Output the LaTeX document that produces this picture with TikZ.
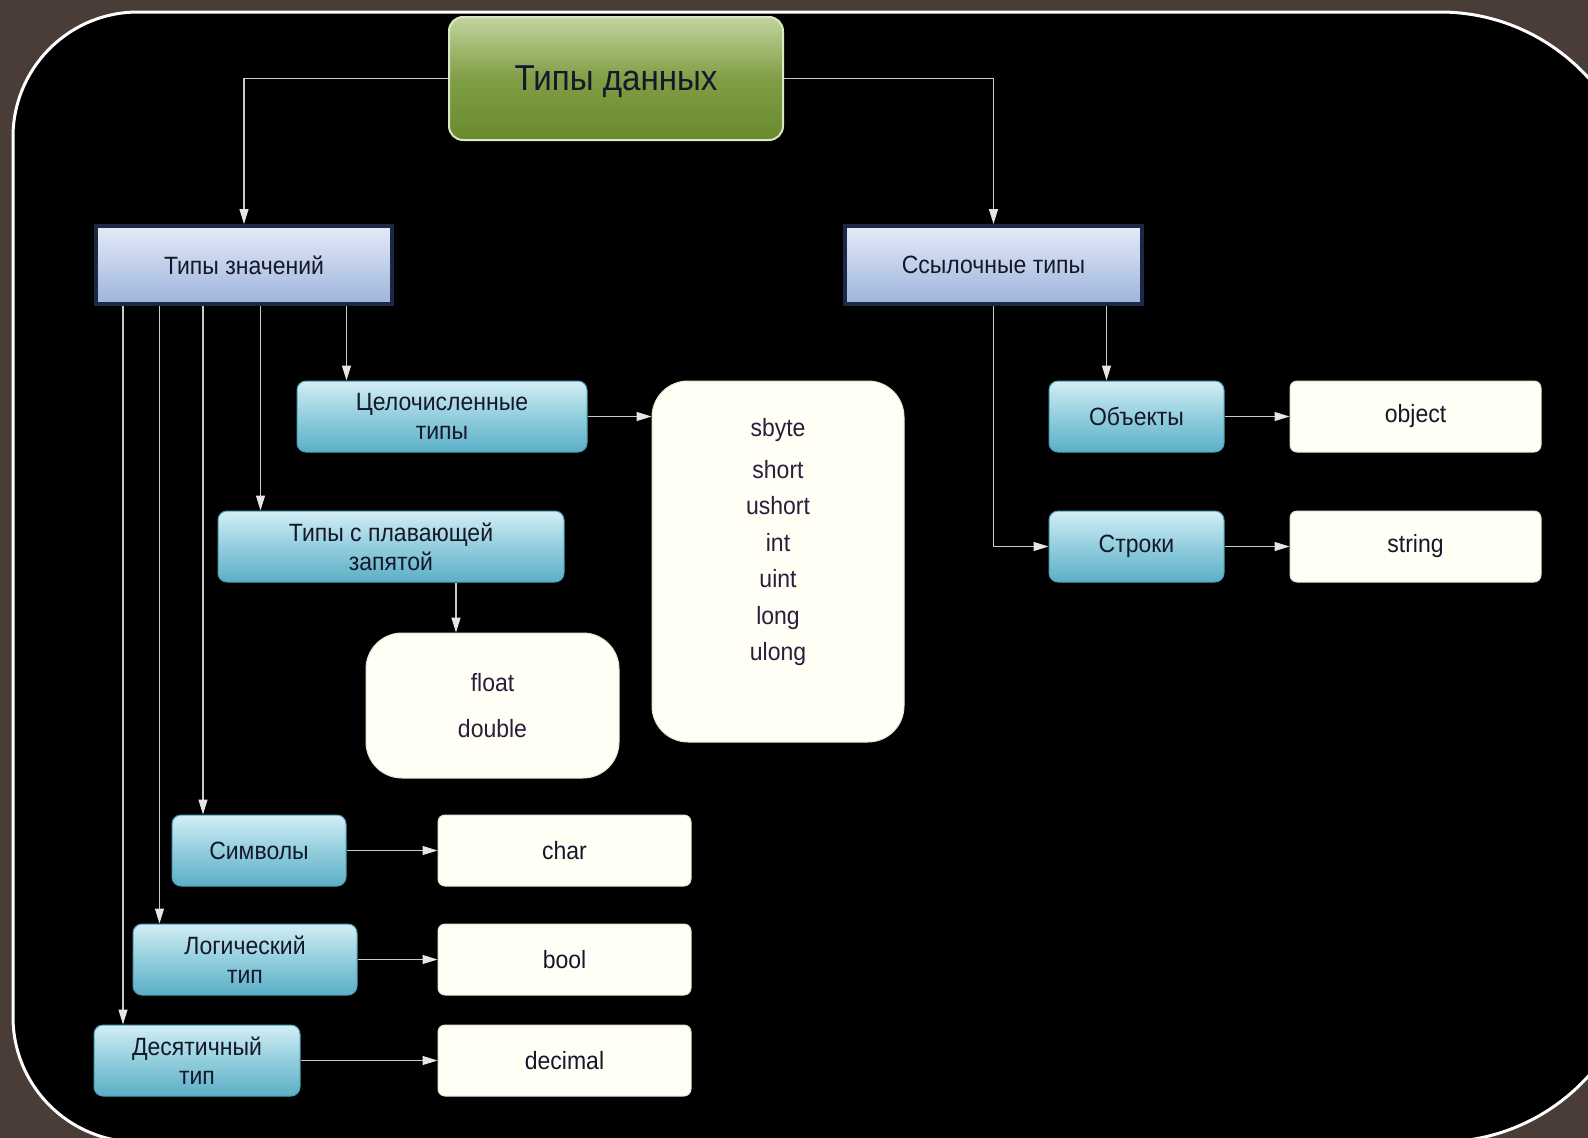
\documentclass[tikz,border=0pt]{standalone}
\usepackage{fontspec}
\setmainfont{Liberation Sans}[FakeStretch=0.92]
\usepackage{tikz}
\usetikzlibrary{arrows.meta}
\pgfdeclarelayer{bglayer}
\pgfdeclarelayer{edgelayer}
\pgfdeclarelayer{nodelayer}
\pgfsetlayers{bglayer,edgelayer,nodelayer,main}
\definecolor{stone}{HTML}{4A3C37}
\definecolor{oliveTop}{HTML}{C2D49E}
\definecolor{oliveMid}{HTML}{7F9E45}
\definecolor{oliveBot}{HTML}{6A8A2E}
\definecolor{oliveRim}{HTML}{DCE6C4}
\definecolor{steelTop}{HTML}{E4EBF7}
\definecolor{steelBot}{HTML}{9DB4DC}
\definecolor{steelRim}{HTML}{1C2946}
\definecolor{aquaTop}{HTML}{D3EEF5}
\definecolor{aquaMid}{HTML}{92CEDD}
\definecolor{aquaBot}{HTML}{5BAFC7}
\definecolor{aquaRim}{HTML}{4E9DB4}
\definecolor{creamFill}{HTML}{FFFFF6}
\definecolor{creamRim}{HTML}{E6E3D2}
\definecolor{ink}{HTML}{15182A}
\definecolor{plum}{HTML}{2A1E3C}
\definecolor{wire}{HTML}{CACACA}
\definecolor{tip}{HTML}{E6E6E6}
\tikzstyle{frame}=[draw=white,fill=black,line width=3]
\tikzstyle{olive}=[rectangle,rounded corners=14,top color=oliveTop,bottom color=oliveBot,middle color=oliveMid,draw=oliveRim,line width=2,text=ink,text depth=0,font=\fontsize{36}{42}\selectfont]
\tikzstyle{steel}=[rectangle,top color=steelTop,bottom color=steelBot,draw=steelRim,line width=4,text=ink,font=\fontsize{25}{29}\selectfont]
\tikzstyle{aqua}=[rectangle,rounded corners=9,top color=aquaTop,bottom color=aquaBot,middle color=aquaMid,draw=aquaRim,line width=1,text=ink,align=center,minimum height=71,font=\fontsize{25}{29}\selectfont]
\tikzstyle{cream}=[rectangle,rounded corners=7,fill=creamFill,draw=creamRim,line width=1,text=ink,minimum width=253,minimum height=71,font=\fontsize{25}{29}\selectfont]
\tikzstyle{creamround}=[rectangle,rounded corners=36,fill=creamFill,draw=creamRim,line width=1,text=plum,align=center]
\tikzstyle{list}=[inner sep=0,align=center,text=plum,font=\fontsize{25}{36.5}\selectfont]
\tikzstyle{link}=[draw=wire,line width=1.2,-{Triangle[length=15pt,width=9pt,color=tip]}]

\begin{document}
\begin{tikzpicture}[x=1pt,y=-1pt]
					\useasboundingbox (0,0) rectangle (1588,1138);
					\begin{pgfonlayer}{bglayer}
						\clip (0,0) rectangle (1588,1138);
						\fill [stone] (0,0) rectangle (1588,1138);
						\draw [style=frame] (13,1012) -- (13,137) arc[start angle=180,end angle=270,radius=125] -- (1440,12) arc[start angle=270,end angle=360,radius=200] -- (1640,942) arc[start angle=0,end angle=90,radius=200] -- (138,1142) arc[start angle=90,end angle=180,radius=125] -- cycle;
					\end{pgfonlayer}
					\begin{pgfonlayer}{nodelayer}
						\node [style=olive, minimum width=334, minimum height=123] (0) at (616.000,78.500) {Типы данных};
						\node [style=steel, minimum width=296, minimum height=78] (1) at (244.000,265.000) {Типы значений};
						\node [style=steel, minimum width=297, minimum height=78] (2) at (993.500,265.000) {Ссылочные типы};
						\node [style=aqua, minimum width=290] (3) at (442.000,416.500) {Целочисленные\\типы};
						\node [style=aqua, minimum width=346] (4) at (391.000,546.500) {Типы с плавающей\\запятой};
						\node [style=aqua, minimum width=174] (5) at (259.000,850.500) {Символы};
						\node [style=aqua, minimum width=224] (6) at (245.000,959.500) {Логический\\тип};
						\node [style=aqua, minimum width=206] (7) at (197.000,1060.500) {Десятичный\\тип};
						\node [style=aqua, minimum width=175] (8) at (1136.500,416.500) {Объекты};
						\node [style=aqua, minimum width=175] (9) at (1136.500,546.500) {Строки};
						\node [style=creamround, minimum width=252, minimum height=361] (10) at (778.000,561.500) {};
						\node [style=list, anchor=north] (11) at (778.000,418.500) {sbyte\\[5pt]short\\ushort\\int\\uint\\long\\ulong};
						\node [style=creamround, minimum width=253, minimum height=145, font=\fontsize{25}{46}\selectfont] (12) at (492.500,705.500) {float\\double};
						\node [style=cream] (13) at (564.500,850.500) {char};
						\node [style=cream] (14) at (564.500,959.500) {bool};
						\node [style=cream] (15) at (564.500,1060.500) {decimal};
						\node [style=cream, minimum width=251] (16) at (1415.500,416.500) {object};
						\node [style=cream, minimum width=251] (17) at (1415.500,546.500) {string};
					\end{pgfonlayer}
					\begin{pgfonlayer}{edgelayer}
						\draw [style=link] (0.west) -| (1.north);
						\draw [style=link] (0.east) -| (2.north);
						\draw [style=link] ([xshift=50]3.north west |- 1.south) -- ([xshift=50]3.north west);
						\draw [style=link] ([xshift=43]4.north west |- 1.south) -- ([xshift=43]4.north west);
						\draw [style=link] ([xshift=31.5]5.north west |- 1.south) -- ([xshift=31.5]5.north west);
						\draw [style=link] ([xshift=27]6.north west |- 1.south) -- ([xshift=27]6.north west);
						\draw [style=link] ([xshift=29.5]7.north west |- 1.south) -- ([xshift=29.5]7.north west);
						\draw [style=link] (3.east) -- (3.east -| 10.west);
						\draw [style=link] ([xshift=65]4.south) -- ([xshift=65]4.south |- 12.north);
						\draw [style=link] (5) -- (13);
						\draw [style=link] (6) -- (14);
						\draw [style=link] (7) -- (15);
						\draw [style=link] (2.south) |- (9.west);
						\draw [style=link] ([xshift=-30]8.north |- 2.south) -- ([xshift=-30]8.north);
						\draw [style=link] (8) -- (16);
						\draw [style=link] (9) -- (17);
					\end{pgfonlayer}
				\end{tikzpicture}
\end{document}
